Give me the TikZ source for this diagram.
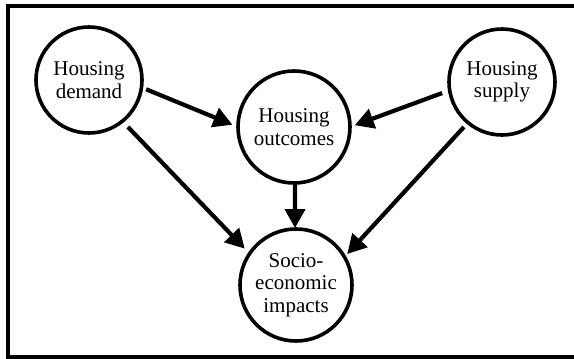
\documentclass[tikz,border=0pt]{standalone}
\usepackage{fontspec}
\setmainfont{Liberation Serif}
\usetikzlibrary{arrows.meta}
\begin{document}
\begin{tikzpicture}[x=1pt,y=-1pt,
  bubble/.style={circle,draw,line width=3.6pt,inner sep=0pt,outer sep=0pt,align=center,font=\fontsize{21}{22.5}\selectfont},
  conn/.style={line width=4.2pt,-{Triangle[length=19pt,width=20pt]}}]
\useasboundingbox (0,0) rectangle (574,359);
\draw[line width=3.2pt] (580,6) -- (8,6) -- (8,357) -- (580,357);
\node[bubble,minimum size=106pt] (dem) at (89,80) {Housing\\demand};
\node[bubble,minimum size=112pt] (out) at (294,127) {Housing\\outcomes};
\node[bubble,minimum size=106pt] (sup) at (502,82) {Housing\\supply};
\node[bubble,minimum size=112pt] (soc) at (296,285) {Socio-\\economic\\impacts};
\draw[conn,shorten <=5pt,shorten >=6pt] (dem.-8) -- (out.180);
\draw[conn,shorten <=8pt,shorten >=7pt] (dem.-51.6) -- (soc.146.6);
\draw[conn,shorten <=8pt,shorten >=5pt] (sup.189.5) -- (out.0);
\draw[conn,shorten <=6pt,shorten >=4pt] (sup.-130.9) -- (soc.30);
\draw[conn,shorten <=1pt,shorten >=1pt] (out.-89) -- (soc.91);
\end{tikzpicture}
\end{document}
